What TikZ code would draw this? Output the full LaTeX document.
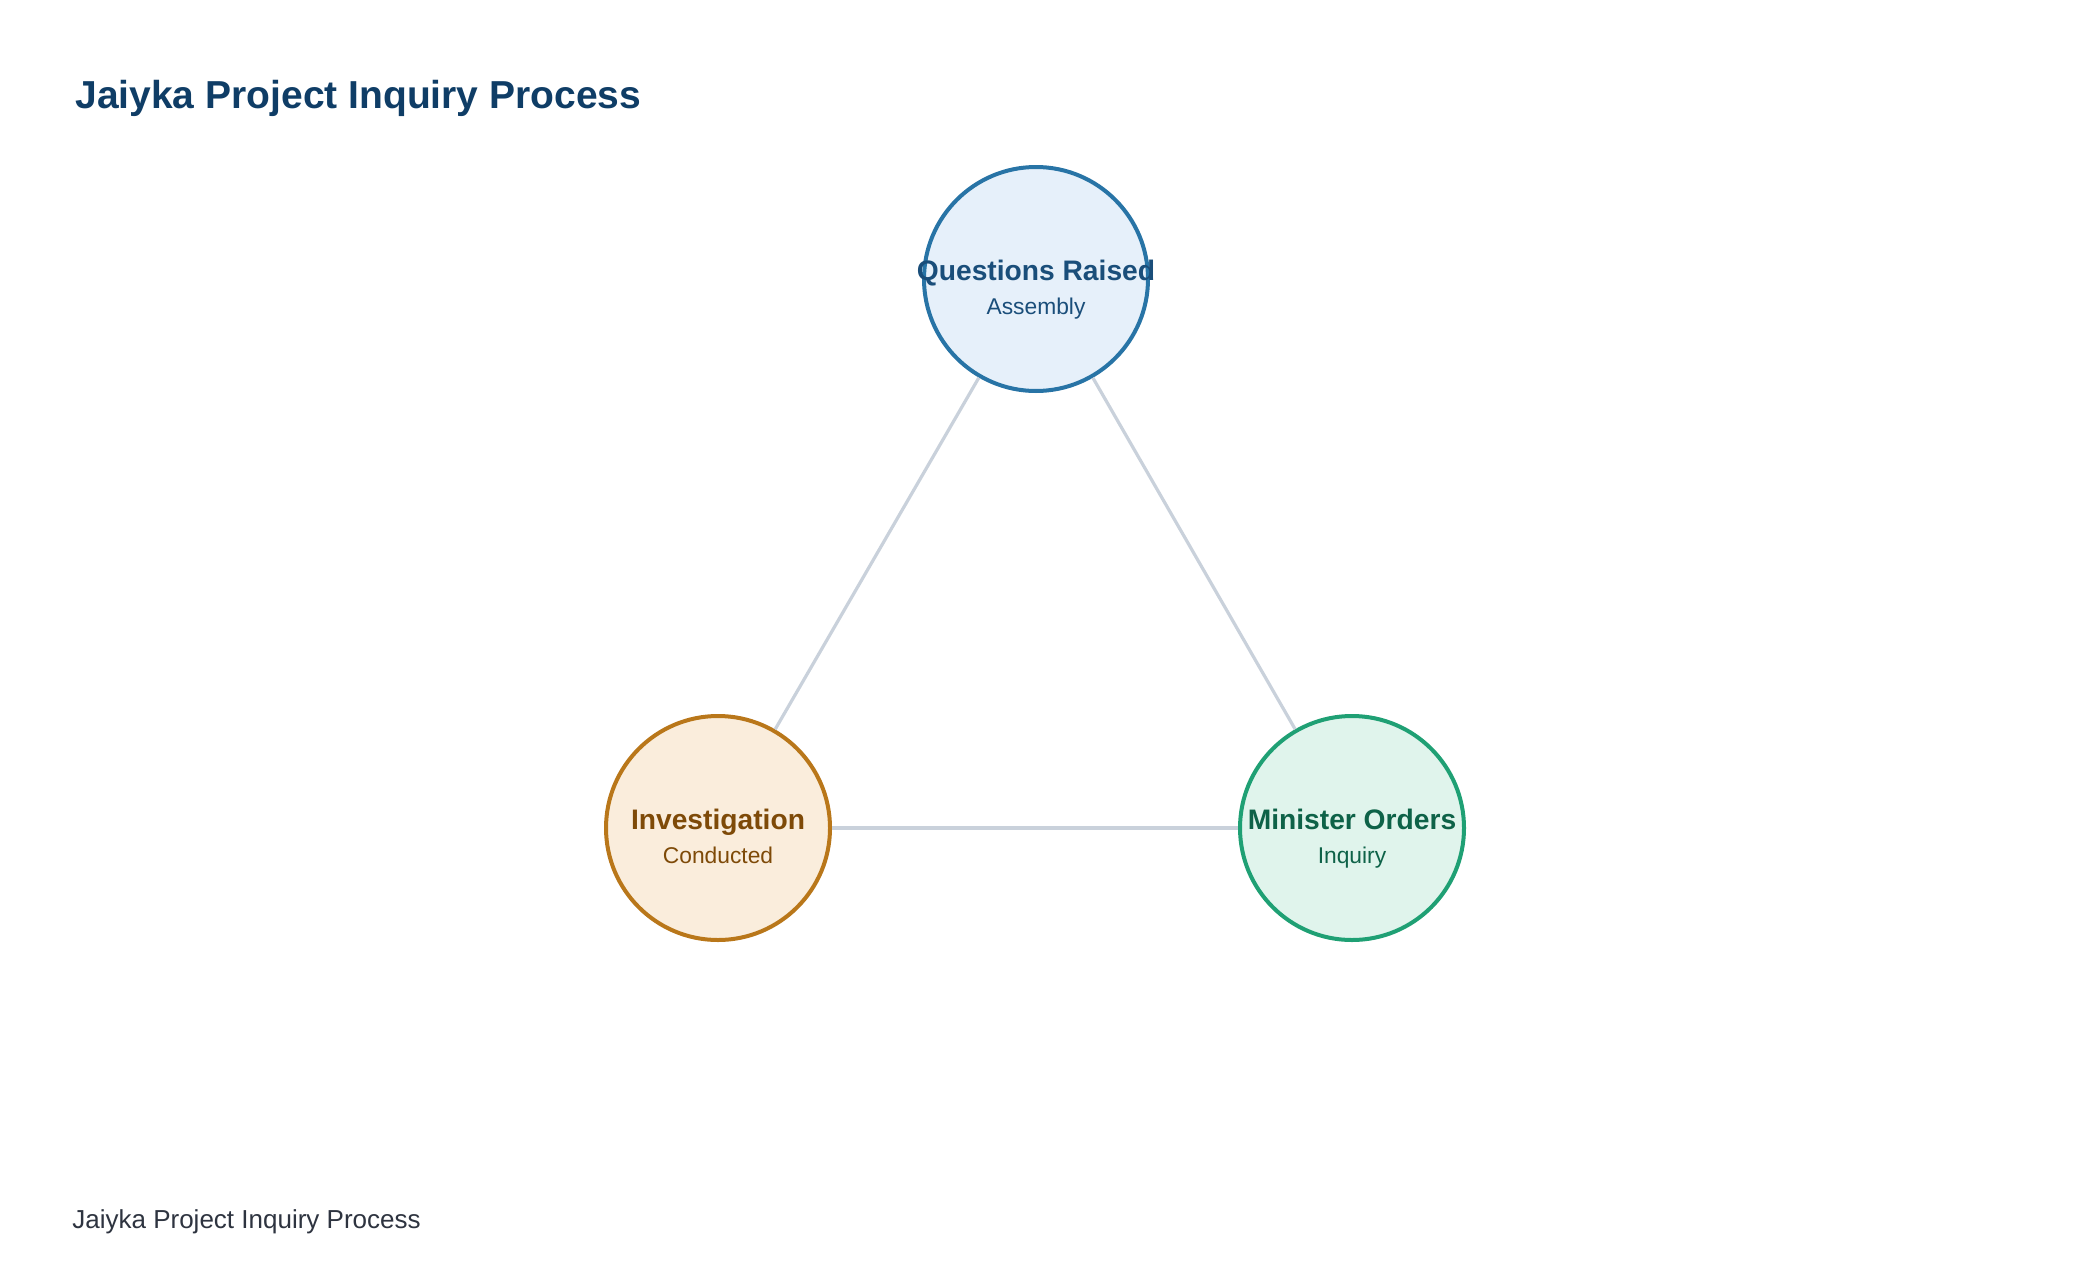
\documentclass[tikz,border=0pt]{standalone}
\usepackage{fontspec}
\setmainfont{Liberation Sans}
\usepackage{tikz}
\usetikzlibrary{positioning}
\definecolor{titleblue}{HTML}{0F3D66}
\definecolor{footgray}{HTML}{2E3440}
\definecolor{edgegray}{HTML}{C9D1DB}
\definecolor{askblue}{HTML}{2874A6}
\definecolor{asklt}{HTML}{E6F0FA}
\definecolor{asktext}{HTML}{1A4E7A}
\definecolor{probeorange}{HTML}{B9771A}
\definecolor{probelt}{HTML}{FAEDDC}
\definecolor{probetext}{HTML}{7E4A08}
\definecolor{ordergreen}{HTML}{1FA074}
\definecolor{orderlt}{HTML}{E0F4EC}
\definecolor{ordertext}{HTML}{0E6248}

\begin{document}
\begin{tikzpicture}[
  x=0.5pt, y=-0.5pt,
  stage/.style={circle, draw, line width=2pt, minimum size=112pt, inner sep=0pt},
  head/.style={anchor=base, font=\fontsize{14.1}{16}\selectfont\bfseries},
  sub/.style={anchor=base, font=\fontsize{11.4}{14}\selectfont},
  edge/.style={draw=edgegray, line width=1.6pt},
]
\useasboundingbox[fill=white] (0,0) rectangle (2080,1284);

% ── Title ──
\node[anchor=base west, font=\fontsize{19.5}{23}\selectfont\bfseries, text=titleblue, inner sep=0pt] (title) at (75,109) {Jaiyka Project Inquiry Process};

% ── Stages ──
\node[stage, fill=asklt, draw=askblue] (questions) at (1036,279) {};
\node[stage, fill=probelt, draw=probeorange] (investigation) at (718,828) {};
\node[stage, fill=orderlt, draw=ordergreen] (minister) at (1352,828) {};

% Links between stages
\draw[edge] (questions) -- (investigation);
\draw[edge] (questions) -- (minister);
\draw[edge] (investigation) -- (minister);

% Stage labels
\node[head, text=asktext] (questions-head) at (1036,280) {Questions Raised};
\node[sub, text=asktext] (questions-sub) at (1036,314) {Assembly};
\node[head, text=probetext] (investigation-head) at (718,829) {Investigation};
\node[sub, text=probetext] (investigation-sub) at (718,863) {Conducted};
\node[head, text=ordertext] (minister-head) at (1352,829) {Minister Orders};
\node[sub, text=ordertext] (minister-sub) at (1352,863) {Inquiry};

% ── Footer ──
\node[anchor=base west, font=\fontsize{13}{16}\selectfont, text=footgray, inner sep=0pt] (footer) at (72,1228) {Jaiyka Project Inquiry Process};

\end{tikzpicture}
\end{document}
